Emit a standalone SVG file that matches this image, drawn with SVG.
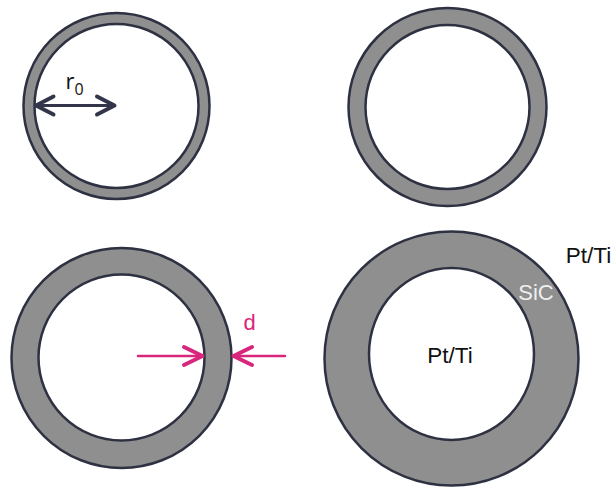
<svg xmlns="http://www.w3.org/2000/svg" width="615" height="489" viewBox="0 0 615 489">
<style>
.ring{fill:#8f8f8f;stroke:#2e3142;stroke-width:2.5}
.hole{fill:#ffffff;stroke:#2e3142;stroke-width:2.5}
.dark{stroke:#33364a;fill:none;stroke-linecap:round;stroke-linejoin:round}
.mag{stroke:#d8267c;fill:none;stroke-linecap:round;stroke-linejoin:round}
.lbl{font-family:"Liberation Sans",Arial,sans-serif;fill:#111111}
</style>
<rect width="615" height="489" fill="#ffffff"/>
<g id="ring-top-left">
<circle class="ring" cx="116.5" cy="106" r="93"/>
<circle class="hole" cx="116.5" cy="106" r="82"/>
</g>
<g id="ring-top-right">
<circle class="ring" cx="447.5" cy="107" r="99"/>
<circle class="hole" cx="447.5" cy="107" r="82"/>
</g>
<g id="ring-bottom-left">
<circle class="ring" cx="121.5" cy="358" r="110"/>
<circle class="hole" cx="121.5" cy="357.5" r="83"/>
</g>
<g id="ring-bottom-right">
<circle class="ring" cx="451.5" cy="358.5" r="127"/>
<ellipse class="hole" cx="451.5" cy="354" rx="82.5" ry="86"/>
<text class="lbl" x="450" y="363" font-size="22.5" text-anchor="middle">Pt/Ti</text>
<text class="lbl" x="536" y="299.5" font-size="22" text-anchor="middle" style="fill:#eeeeee">SiC</text>
<text class="lbl" x="588.5" y="263" font-size="22.5" text-anchor="middle">Pt/Ti</text>
</g>
<g id="connectors">
<g id="radius-arrow">
<line class="dark" x1="37" y1="105.5" x2="113" y2="105.5" stroke-width="3"/>
<polyline class="dark" points="53.5,96.5 36,105.5 53.5,114.5" stroke-width="4"/>
<polyline class="dark" points="97,96.5 114.5,105.5 97,114.5" stroke-width="4"/>
<text x="65.5" y="88.5" font-size="22" font-family="'Open Sans','Liberation Sans',sans-serif" fill="#111111">r<tspan font-size="16" dy="6.5">0</tspan></text>
</g>
<g id="thickness-arrows">
<line class="mag" x1="138" y1="356" x2="201" y2="356" stroke-width="2.5"/>
<polyline class="mag" points="184,347 202.5,356 184,365" stroke-width="4"/>
<line class="mag" x1="235" y1="356" x2="285" y2="356" stroke-width="2.5"/>
<polyline class="mag" points="252,347 233.5,356 252,365" stroke-width="4"/>
<text x="249.5" y="330" font-size="22" text-anchor="middle" font-family="'Liberation Sans',Arial,sans-serif" fill="#d8267c">d</text>
</g>
</g>
</svg>
